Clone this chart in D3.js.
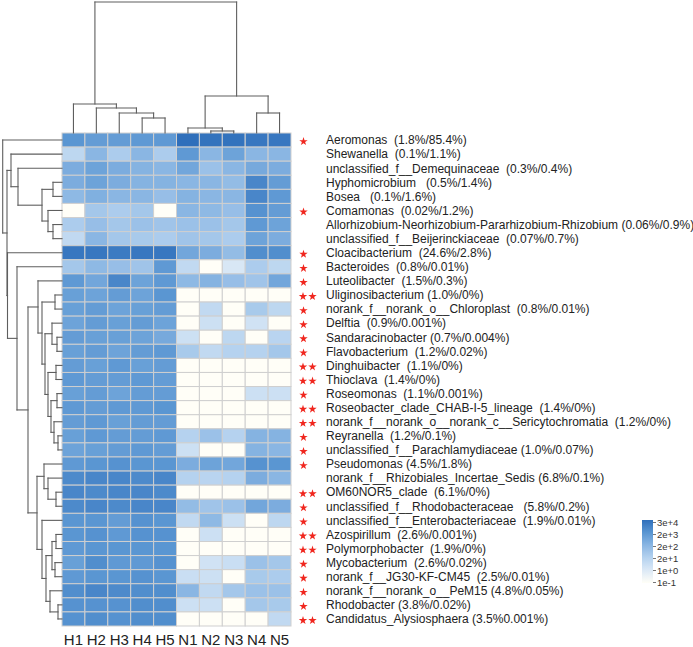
<!DOCTYPE html>
<html><head><meta charset="utf-8">
<script src="https://cdn.jsdelivr.net/npm/d3@7"></script>
<style>
body{margin:0;background:#fff}
svg{display:block}
text{font-family:"Liberation Sans",Arial,sans-serif}
</style></head>
<body><svg id="chart" width="693" height="647"></svg>
<script>
// ---------- data ----------
const samples = ["H1","H2","H3","H4","H5","N1","N2","N3","N4","N5"];
const taxaLabels = [
  "Aeromonas  (1.8%/85.4%)",
  "Shewanella  (0.1%/1.1%)",
  "unclassified_f__Demequinaceae  (0.3%/0.4%)",
  "Hyphomicrobium   (0.5%/1.4%)",
  "Bosea   (0.1%/1.6%)",
  "Comamonas  (0.02%/1.2%)",
  "Allorhizobium-Neorhizobium-Pararhizobium-Rhizobium (0.06%/0.9%)",
  "unclassified_f__Beijerinckiaceae  (0.07%/0.7%)",
  "Cloacibacterium  (24.6%/2.8%)",
  "Bacteroides  (0.8%/0.01%)",
  "Luteolibacter  (1.5%/0.3%)",
  "Uliginosibacterium (1.0%/0%)",
  "norank_f__norank_o__Chloroplast  (0.8%/0.01%)",
  "Delftia  (0.9%/0.001%)",
  "Sandaracinobacter (0.7%/0.004%)",
  "Flavobacterium  (1.2%/0.02%)",
  "Dinghuibacter  (1.1%/0%)",
  "Thioclava  (1.4%/0%)",
  "Roseomonas  (1.1%/0.001%)",
  "Roseobacter_clade_CHAB-I-5_lineage  (1.4%/0%)",
  "norank_f__norank_o__norank_c__Sericytochromatia  (1.2%/0%)",
  "Reyranella  (1.2%/0.1%)",
  "unclassified_f__Parachlamydiaceae (1.0%/0.07%)",
  "Pseudomonas (4.5%/1.8%)",
  "norank_f__Rhizobiales_Incertae_Sedis (6.8%/0.1%)",
  "OM60NOR5_clade  (6.1%/0%)",
  "unclassified_f__Rhodobacteraceae   (5.8%/0.2%)",
  "unclassified_f__Enterobacteriaceae  (1.9%/0.01%)",
  "Azospirillum  (2.6%/0.001%)",
  "Polymorphobacter  (1.9%/0%)",
  "Mycobacterium  (2.6%/0.02%)",
  "norank_f__JG30-KF-CM45  (2.5%/0.01%)",
  "norank_f__norank_o__PeM15 (4.8%/0.05%)",
  "Rhodobacter (3.8%/0.02%)",
  "Candidatus_Alysiosphaera (3.5%0.001%)"
];
// significance stars per taxon (0, 1 or 2)
const stars = [1,0,0,0,0,1,0,0,1,1,1,2,1,1,1,1,2,2,1,2,2,1,1,1,0,2,1,1,2,2,1,1,1,1,2];

// colour level of each cell (legend position: 0 = 1e-1 ... 5 = 3e+4), one array per sample
const H1 = [4.0,1.8,3.3,3.3,2.9,0.0,2.2,1.7,4.8,2.4,3.9,3.7,3.7,3.6,3.8,3.7,3.8,3.9,3.7,3.9,3.8,3.7,3.6,3.9,4.3,4.4,4.3,4.0,4.0,3.9,3.7,3.9,4.2,4.1,4.1];
const H2 = [3.8,3.0,3.6,3.6,3.2,2.4,2.7,3.0,4.8,2.9,3.5,3.6,3.8,3.8,3.7,3.8,3.7,3.8,3.8,3.8,3.9,3.9,3.7,4.0,4.4,4.3,4.4,4.0,4.1,4.0,4.2,4.0,4.4,4.1,4.2];
const H3 = [3.8,2.2,3.3,3.3,3.0,2.2,2.4,2.4,4.7,2.7,4.4,3.8,3.6,3.7,3.7,3.6,3.9,3.8,3.6,3.9,3.7,3.8,3.8,4.1,4.4,4.4,4.3,3.8,3.9,4.0,3.9,4.0,4.3,4.1,4.1];
const H4 = [3.9,3.0,3.1,3.1,3.0,2.4,2.6,2.3,4.8,2.5,3.6,3.6,3.7,3.8,3.6,3.8,3.7,3.9,3.8,3.9,3.8,3.8,3.9,4.0,4.3,4.4,4.4,4.1,4.1,4.0,3.9,4.1,4.2,4.2,4.2];
const H5 = [3.9,2.2,3.0,3.1,2.7,0.0,2.5,2.2,4.8,3.9,3.9,4.0,3.8,3.6,3.4,3.9,3.8,3.8,3.8,4.0,3.8,3.9,3.8,4.0,4.4,4.3,4.4,4.0,4.1,4.0,4.1,4.0,4.2,4.2,4.2];
const N1 = [5.0,3.9,3.5,3.0,3.1,3.0,2.6,2.5,3.5,1.7,2.9,0,0,0,1.4,2.3,0,0,0,0,0,2.0,1.4,3.3,2.0,0,2.8,1.7,0,0,0,1.5,3.0,1.4,0];
const N2 = [4.9,3.0,2.6,3.0,3.0,2.9,2.6,2.4,3.3,0.0,3.1,0,1.7,1.4,0,1.7,0,0,0,0,0,2.6,0,3.6,1.9,0,2.5,2.9,1.4,0,1.3,1.4,1.7,1.4,0];
const N3 = [4.9,3.6,3.0,2.8,3.0,2.7,2.4,2.2,2.8,1.1,2.7,0,0,0,1.8,2.0,0,0,0,0,0,2.0,0,3.5,2.0,0,2.6,1.4,0,0,1.5,0,2.4,0,0];
const N4 = [4.8,3.0,3.4,4.4,4.4,4.1,3.9,3.6,4.2,2.2,2.5,0,2.3,1.3,0,2.0,0,0,1.4,0,0,3.1,3.1,4.1,3.3,0,3.5,0,0,0,2.6,2.3,2.6,2.4,0];
const N5 = [4.8,3.0,3.3,3.8,3.9,3.8,3.6,3.3,4.2,1.8,3.5,0,1.8,0,1.9,2.4,0,0,1.4,0,0,3.1,3.0,4.0,3.0,0,3.3,1.8,0,0,2.4,2.2,2.6,2.3,1.7];
const sampleValues = [H1,H2,H3,H4,H5,N1,N2,N3,N4,N5];

const legendTicks = ["1e-1","1e+0","2e+1","2e+2","2e+3","3e+4"];

// dendrograms: h = merge height, c = children, leaves = index
const colTree = {h:131, c:[
  {h:29, c:[0, {h:25, c:[1, {h:20, c:[2, {h:15, c:[3,4]}]}]}]},
  {h:37, c:[{h:5, c:[5, {h:2, c:[6,7]}]}, {h:20, c:[8,9]}]}
]};
const rowTree = {h:59.3, c:[0, {h:55, c:[
  {h:51, c:[1, {h:44, c:[2, {h:20, c:[{h:9,c:[3,4]}, {h:14, c:[5, {h:9, c:[6,7]}]}]}]}]},
  {h:54.5, c:[8, {h:45, c:[9, {h:34, c:[
     {h:24, c:[10, {h:20, c:[
        {h:7, c:[11,12]},
        {h:17, c:[
           {h:10, c:[13, {h:5, c:[14,15]}]},
           {h:14, c:[{h:6, c:[16,17]}, {h:11, c:[{h:5, c:[18,19]}, {h:8, c:[20, {h:4, c:[21,22]}]}]}]}
        ]}
     ]}]},
     {h:25, c:[
        {h:18, c:[23, {h:14, c:[24, {h:6, c:[25,26]}]}]},
        {h:20, c:[27, {h:16, c:[
           {h:10, c:[{h:6, c:[28,29]}, {h:7, c:[30,31]}]},
           {h:12, c:[32, {h:4, c:[33,34]}]}
        ]}]}
     ]}
  ]}]}]}
]}]};

// ---------- layout ----------
const svg = d3.select("#chart");
const hm = {x0:62, x1:291, y0:133, y1:626};

const x = d3.scaleBand().domain(d3.range(samples.length)).range([hm.x0, hm.x1]);
const y = d3.scaleBand().domain(d3.range(taxaLabels.length)).range([hm.y0, hm.y1]);

const color = d3.scaleLinear()
  .domain([0,1,2,3,4,5])
  .range(["#fffef7","#dce9f6","#b5d2ef","#8ab6e3","#5a96d2","#2f6fbb"])
  .clamp(true);

// cells
const cells = [];
sampleValues.forEach((arr, j) => arr.forEach((v, i) => cells.push({i, j, v})));
svg.append("g").selectAll("rect").data(cells).join("rect")
  .attr("x", d => x(d.j)).attr("y", d => y(d.i))
  .attr("width", x.bandwidth()).attr("height", y.bandwidth())
  .attr("fill", d => color(d.v))
  .attr("stroke", "#cfcfcf").attr("stroke-width", 1);

// dendrogram helper
function drawDendro(tree, leafPos, hScale, orient) {
  const root = d3.hierarchy(tree, d => (d && d.c) ? d.c : null);
  root.eachAfter(n => {
    n.h = n.children ? n.data.h : 0;
    n.p = n.children ? (n.children[0].p + n.children[n.children.length-1].p) / 2 : leafPos(n.data);
  });
  const segs = [];
  root.each(n => {
    if (!n.children) return;
    const hv = hScale(n.h);
    n.children.forEach(ch => segs.push([ch.p, hScale(ch.h), ch.p, hv]));
    segs.push([n.children[0].p, hv, n.children[n.children.length-1].p, hv]);
  });
  const g = svg.append("g").attr("stroke", "#5e5e5e").attr("stroke-width", 1.1).attr("fill", "none");
  g.selectAll("line").data(segs).join("line")
    .attr("x1", s => orient === "col" ? s[0] : s[1])
    .attr("y1", s => orient === "col" ? s[1] : s[0])
    .attr("x2", s => orient === "col" ? s[2] : s[3])
    .attr("y2", s => orient === "col" ? s[3] : s[2])
    .attr("stroke-linecap", "square");
}
const colH = d3.scaleLinear().domain([0, 131]).range([hm.y0, 2]);
drawDendro(colTree, d => x(d) + x.bandwidth()/2, colH, "col");
const rowH = d3.scaleLinear().domain([0, 61]).range([hm.x0, 1]);
drawDendro(rowTree, d => y(d) + y.bandwidth()/2, rowH, "row");

// column labels
svg.append("g").selectAll("text").data(samples).join("text")
  .attr("x", (d,i) => x(i) + x.bandwidth()/2).attr("y", 645)
  .attr("text-anchor", "middle").attr("font-size", 15).attr("fill", "#222")
  .text(d => d);

// row labels
svg.append("g").selectAll("text").data(taxaLabels).join("text")
  .attr("x", 326).attr("y", (d,i) => y(i) + y.bandwidth()/2 + 4.3)
  .attr("font-size", 12).attr("fill", "#222")
  .attr("xml:space", "preserve").style("white-space", "pre")
  .text(d => d);

// stars
const starPts = [];
stars.forEach((n, i) => {
  if (n === 1) starPts.push({i, x: 303.5});
  if (n === 2) { starPts.push({i, x: 303}); starPts.push({i, x: 312.5}); }
});
const starPath = d3.symbol(d3.symbolStar, 22)();
svg.append("g").selectAll("path").data(starPts).join("path")
  .attr("d", starPath)
  .attr("transform", d => `translate(${d.x},${y(d.i) + y.bandwidth()/2 + 1.5})`)
  .attr("fill", "#f0261e");

// legend
const defs = svg.append("defs");
const grad = defs.append("linearGradient").attr("id", "lg")
  .attr("x1", 0).attr("y1", 1).attr("x2", 0).attr("y2", 0);
d3.range(0, 5.01, 0.5).forEach(v => grad.append("stop")
  .attr("offset", v/5).attr("stop-color", color(v)));
const ly = d3.scaleLinear().domain([0,5]).range([582, 522]);
svg.append("rect").attr("x", 642).attr("y", 520).attr("width", 11).attr("height", 63)
  .attr("fill", "url(#lg)");
const lax = svg.append("g").attr("transform", "translate(653,0)")
  .call(d3.axisRight(ly).tickValues(d3.range(6)).tickFormat(i => legendTicks[i]).tickSize(3).tickPadding(1));
lax.select(".domain").remove();
lax.selectAll("line").attr("stroke", "#777");
lax.selectAll("text").attr("font-size", 9.5).attr("fill", "#333")
  .attr("font-family", '"Liberation Sans",Arial,sans-serif');
</script>
</body></html>
